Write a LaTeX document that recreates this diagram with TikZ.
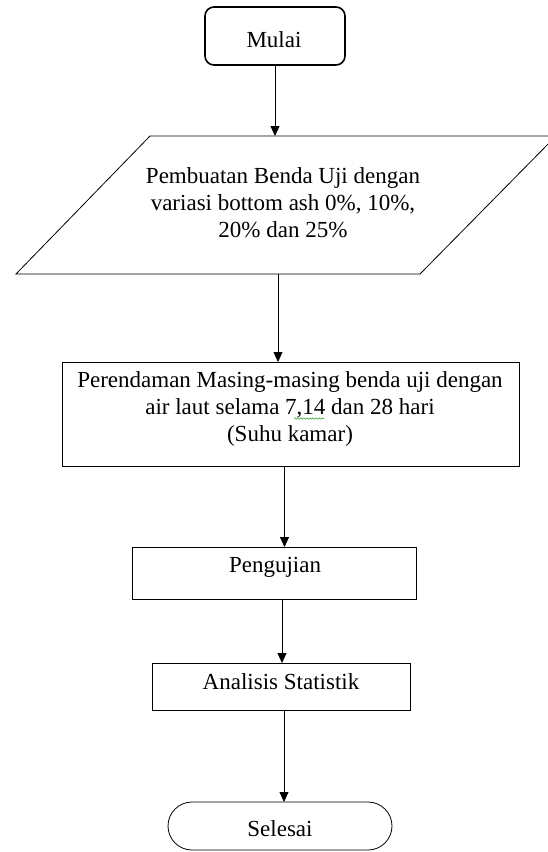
\documentclass[tikz,border=0pt]{standalone}
\usepackage{fontspec}
\setmainfont{Liberation Serif}
\usetikzlibrary{arrows.meta,decorations.pathmorphing}
\definecolor{spellgreen}{RGB}{60,170,60}
\begin{document}
\begin{tikzpicture}[x=1pt,y=-1pt,
  box/.style={draw, line width=0.8pt, inner sep=0pt, outer sep=0pt},
  ghost/.style={inner sep=0pt, outer sep=0pt},
  txt/.style={font=\fontsize{23}{27}\selectfont, align=center, inner sep=0pt},
  arr/.style={draw, line width=0.8pt, -{Triangle[length=10pt,width=9pt]}}]
\useasboundingbox (0,0) rectangle (548,852);
\fill[white] (0,0) rectangle (548,852);

% shapes
\node[box, line width=1.6pt, rounded corners=9pt, minimum width=140pt, minimum height=58pt] (mulai) at (275,36) {};
\draw[line width=0.8pt] (16,274) -- (150,136) -- (556,136) -- (420,274) -- cycle;
\node[ghost, minimum width=404pt, minimum height=138pt] (par) at (285,205) {};
\node[box, minimum width=457pt, minimum height=104pt] (rend) at (290.5,414) {};
\node[box, minimum width=284pt, minimum height=52pt] (peng) at (274,573) {};
\node[box, minimum width=258pt, minimum height=47pt] (anal) at (281,686.5) {};
\node[box, rounded corners=24pt, minimum width=224pt, minimum height=48pt] (sel) at (280,826) {};

% texts (base = baseline of last line)
\node[txt, anchor=base] (tmulai) at (274,47) {Mulai};
\node[txt, anchor=base] (tpar) at (283,237) {Pembuatan Benda Uji dengan\\variasi bottom ash 0\%, 10\%,\\20\% dan 25\%};
\node[txt, anchor=base] (trend) at (290,441) {Perendaman Masing-masing benda uji dengan\\air laut selama 7,14 dan 28 hari\\(Suhu kamar)};
\node[txt, anchor=base] (tpeng) at (275,572) {Pengujian};
\node[txt, anchor=base] (tanal) at (281,689) {Analisis Statistik};
\node[txt, anchor=base] (tsel) at (280,836) {Selesai};

% spell-check squiggle under "14"
\coordinate (sqa) at (294,418.5);
\coordinate (sqb) at (324,418.5);
\draw[spellgreen, line width=0.6pt, decorate, decoration={snake, amplitude=0.7pt, segment length=3pt}] (sqa) -- (sqb);

% connectors
\draw[arr] (mulai.south) -- (mulai.south |- par.north);
\draw[arr] ([xshift=-7pt]par.south) -- ([xshift=-7pt]par.south |- rend.north);
\draw[arr] ([xshift=-6pt]rend.south) -- ([xshift=-6pt]rend.south |- peng.north);
\draw[arr] ([xshift=8pt]peng.south) -- ([xshift=8pt]peng.south |- anal.north);
\draw[arr] ([xshift=3pt]anal.south) -- ([xshift=3pt]anal.south |- sel.north);
\end{tikzpicture}
\end{document}
